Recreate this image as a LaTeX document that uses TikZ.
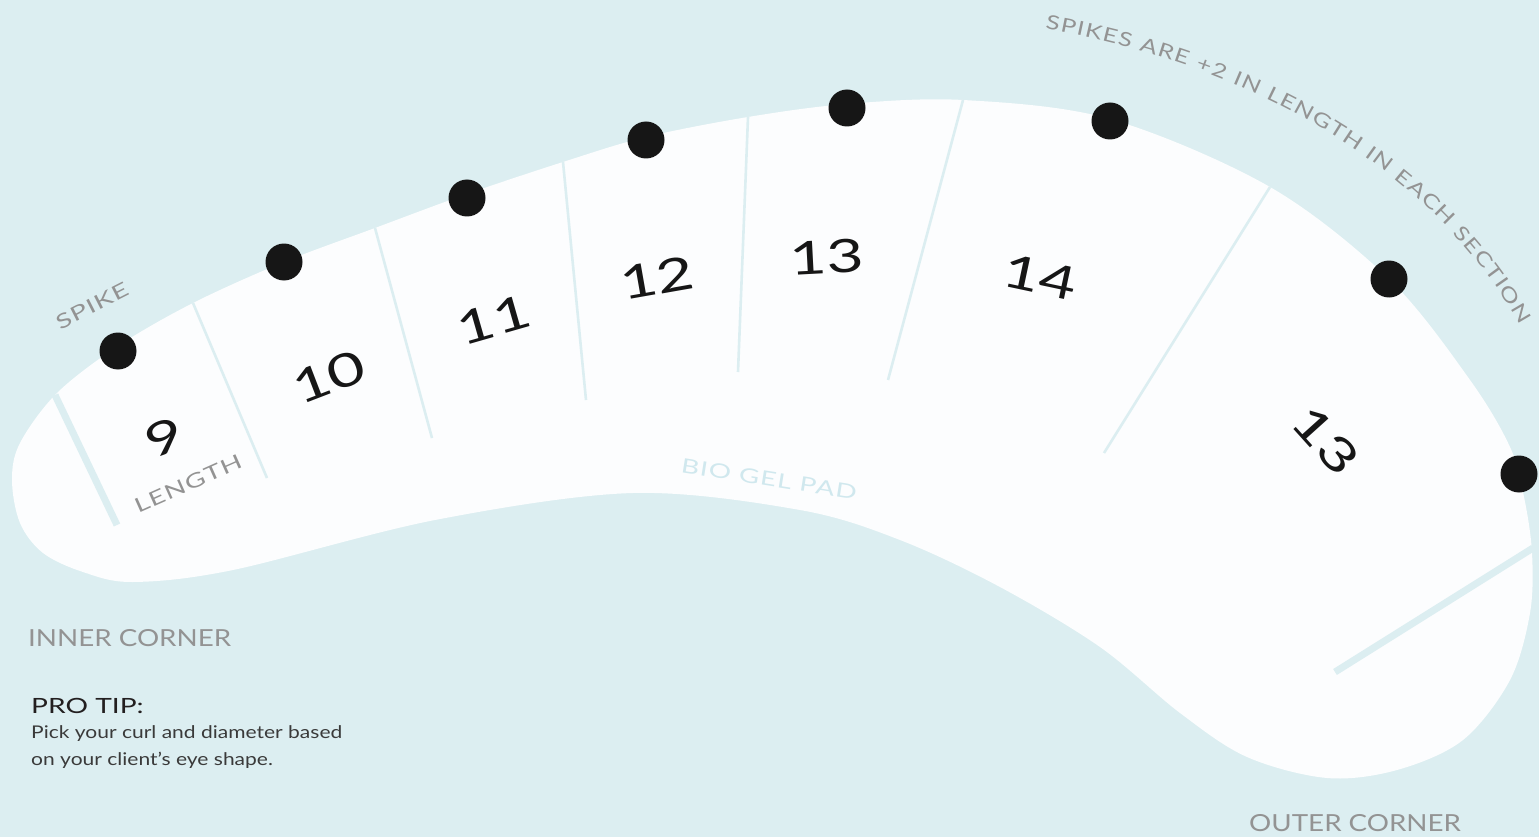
\documentclass[tikz,border=0pt]{standalone}
\usepackage{fontspec}
\setmainfont{Lato}
\newfontfamily\numfont[FakeStretch=1.4]{Lato}
\newfontfamily\lblfont[FakeStretch=1.4,LetterSpace=5]{Lato}
\newfontfamily\arcfont[FakeStretch=1.3]{Lato}
\newfontfamily\capfont[FakeStretch=1.18]{Lato}
\newfontfamily\tipfont[FakeStretch=1.34]{Lato}
\newfontfamily\bodyfont[FakeStretch=1.2]{Lato}
\usetikzlibrary{decorations.text}
\definecolor{bgblue}{HTML}{DCEEF1}
\definecolor{padwhite}{HTML}{FCFDFE}
\definecolor{dotblack}{HTML}{161616}
\definecolor{lblgrey}{HTML}{939393}
\definecolor{gelblue}{HTML}{D0E8EE}
\definecolor{tipdark}{HTML}{231F20}
\definecolor{bodygrey}{HTML}{3A3A3A}
\begin{document}
\begin{tikzpicture}[x=1pt,y=-1pt,
  divline/.style={draw=bgblue,line width=2.6pt},
  cornerline/.style={draw=bgblue,line width=7pt},
  spikedot/.style={circle,fill=dotblack,minimum size=37pt,inner sep=0pt},
  lengthnum/.style={text=dotblack,font=\numfont\fontsize{46}{50}\selectfont,inner sep=0pt},
  padlabel/.style={text=lblgrey,font=\lblfont\fontsize{20}{24}\selectfont,inner sep=0pt},
  cornerlabel/.style={text=lblgrey,font=\capfont\fontsize{23.5}{28}\selectfont,inner sep=0pt},
  tiphead/.style={text=tipdark,font=\tipfont\fontsize{21}{25}\selectfont,inner sep=0pt},
  tipbody/.style={text=bodygrey,font=\bodyfont\fontsize{17.5}{21}\selectfont,inner sep=0pt}]
\useasboundingbox (0,0) rectangle (1539,837);
\fill[bgblue] (0,0) rectangle (1539,837);
% bio gel pad
\fill[padwhite] plot[smooth cycle, tension=0.55] coordinates {
 (57,393) (118,346) (193,303) (284,262) (375,228) (467,194) (563,162)
 (646,137) (748,117) (847,104) (963,100) (1110,119) (1270,187) (1390,280)
 (1470,380) (1510,447) (1524,497) (1532,553) (1530,613) (1510,680)
 (1463,740) (1397,770) (1327,778) (1247,757) (1180,713) (1100,647)
 (1000,587) (900,540) (800,510) (633,493) (435,520) (233,570) (133,582)
 (83,572) (43,553) (20,523) (12,480) (20,443) };
% section dividers
\draw[cornerline] (55,395) -- (117,525);
\draw[divline] (193,303) -- (267,478);
\draw[divline] (375,228) -- (432,438);
\draw[divline] (563,162) -- (586,400);
\draw[divline] (748,117) -- (738,372);
\draw[divline] (963,100) -- (888,380);
\draw[divline] (1270,187) -- (1104,453);
\draw[cornerline] (1533,548) -- (1335,672);
% spikes
\node[spikedot] (s1) at (118,351) {};
\node[spikedot] (s2) at (284,262) {};
\node[spikedot] (s3) at (467,198) {};
\node[spikedot] (s4) at (646,140) {};
\node[spikedot] (s5) at (847,108) {};
\node[spikedot] (s6) at (1110,121) {};
\node[spikedot] (s7) at (1389,279) {};
\node[spikedot] (s8) at (1519,474) {};
% lengths
\node[lengthnum,rotate=20] (n9) at (164,437) {9};
\node[lengthnum,rotate=21] (n10) at (329,377) {10};
\node[lengthnum,rotate=16] (n11) at (494,320) {11};
\node[lengthnum,rotate=10] (n12) at (657,278) {12};
\node[lengthnum,rotate=3] (n13) at (827,257) {13};
\node[lengthnum,rotate=-12] (n14) at (1040,277) {14};
\node[lengthnum,rotate=-48] (n13b) at (1326,440) {13};
% labels
\node[padlabel,rotate=27] (spike) at (92,306) {SPIKE};
\node[padlabel,rotate=24] (length) at (188,484) {LENGTH};
\node[padlabel,rotate=-9,text=gelblue] (gel) at (769,479) {BIO GEL PAD};
\path[decorate, decoration={text along path, text align={fit to path},
  text color=lblgrey,
  text={|\arcfont\fontsize{19.5}{24}\selectfont|SPIKES ARE +2 IN LENGTH IN EACH SECTION}}]
  (1045,29) .. controls (1250,65) and (1430,165) .. (1520,325);
\node[cornerlabel,anchor=base west] (inner) at (28,646) {INNER CORNER};
\node[cornerlabel,anchor=base west] (outer) at (1249,831) {OUTER CORNER};
\node[tiphead,anchor=base west] (tip) at (31,713) {PRO TIP:};
\node[tipbody,anchor=base west] (tip1) at (31,738) {Pick your curl and diameter based};
\node[tipbody,anchor=base west] (tip2) at (31,765) {on your client’s eye shape.};
\end{tikzpicture}
\end{document}
